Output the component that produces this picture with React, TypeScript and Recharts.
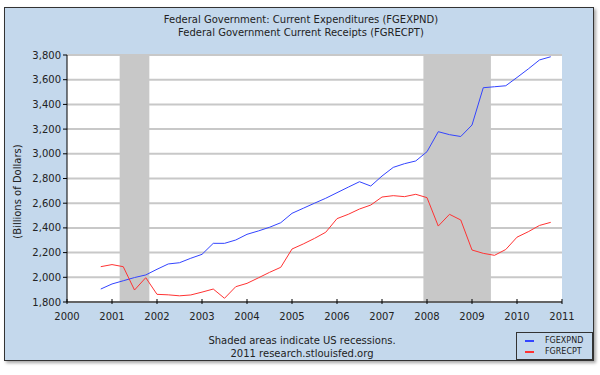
import React from "react";
import {
  CartesianGrid,
  Line,
  LineChart,
  ReferenceArea,
  XAxis,
  YAxis,
} from "recharts";

const quarters = [
  "2000Q4",
  "2001Q1", "2001Q2", "2001Q3", "2001Q4",
  "2002Q1", "2002Q2", "2002Q3", "2002Q4",
  "2003Q1", "2003Q2", "2003Q3", "2003Q4",
  "2004Q1", "2004Q2", "2004Q3", "2004Q4",
  "2005Q1", "2005Q2", "2005Q3", "2005Q4",
  "2006Q1", "2006Q2", "2006Q3", "2006Q4",
  "2007Q1", "2007Q2", "2007Q3", "2007Q4",
  "2008Q1", "2008Q2", "2008Q3", "2008Q4",
  "2009Q1", "2009Q2", "2009Q3", "2009Q4",
  "2010Q1", "2010Q2", "2010Q3", "2010Q4",
];

// FGEXPND, billions of dollars
const expenditures = [
  1905,
  1946, 1972, 1998, 2019,
  2065, 2108, 2118, 2154,
  2186, 2275, 2275, 2302,
  2348, 2375, 2405, 2442,
  2518, 2559, 2600, 2640,
  2685, 2730, 2774, 2739,
  2820, 2890, 2920, 2942,
  3017, 3179, 3155, 3140,
  3233, 3535, 3543, 3551,
  3618, 3687, 3760, 3786,
];

// FGRECPT, billions of dollars
const receipts = [
  2086,
  2103, 2086, 1897, 1997,
  1862, 1858, 1850, 1857,
  1880, 1905, 1830, 1924,
  1951, 1995, 2040, 2081,
  2229, 2270, 2315, 2365,
  2475, 2510, 2553, 2585,
  2650, 2661, 2653, 2672,
  2645, 2415, 2510, 2464,
  2221, 2194, 2178, 2225,
  2325, 2369, 2420, 2445,
];

const recessions = [
  [2001.17, 2001.83],
  [2007.92, 2009.42],
];

const yearTicks = [2000, 2001, 2002, 2003, 2004, 2005, 2006, 2007, 2008, 2009, 2010, 2011];
const valueTicks = [1800, 2000, 2200, 2400, 2600, 2800, 3000, 3200, 3400, 3600, 3800];

const BLUE = "#3344ff";
const RED = "#ff3333";
const FONT = "'DejaVu Sans', Verdana, sans-serif";

const toYear = (q: string) => Number(q.slice(0, 4)) + (Number(q.slice(5)) - 1) / 4;

const data = quarters.map((q, i) => ({
  t: toYear(q),
  FGEXPND: expenditures[i],
  FGRECPT: receipts[i],
}));

const YearTick = ({ x, y, payload }: any) => (
  <g>
    <line x1={x} x2={x} y1={y - 5} y2={y} stroke="#000" />
    <text x={x} y={y + 16} textAnchor="middle" fontSize={10} fill="#222" fontFamily={FONT}>
      {payload.value}
    </text>
  </g>
);

const series = [
  ["FGEXPND", BLUE],
  ["FGRECPT", RED],
];

const LegendBox = () => (
  <div
    style={{
      position: "absolute",
      left: 516,
      top: 332,
      boxSizing: "border-box",
      width: 77,
      height: 28,
      border: "1px solid #333",
      fontSize: 8,
      fontFamily: FONT,
      color: "#222",
      padding: "3px 0 0 8px",
      lineHeight: "10.5px",
    }}
  >
    {series.map(([name, color]) => (
      <div key={name} style={{ display: "flex", alignItems: "center" }}>
        <span style={{ display: "inline-block", width: 9, height: 2, background: color, marginRight: 11 }} />
        {name}
      </div>
    ))}
  </div>
);

const App: React.FC = () => {
  return (
    <div style={{ position: "absolute", left: 0, top: 0, width: 600, height: 375, background: "#fff", fontFamily: FONT }}>
      <div
        style={{
          position: "absolute",
          left: 4,
          top: 7,
          width: 590,
          height: 354,
          boxSizing: "border-box",
          border: "1px solid #333",
          background: "#c4d8ec",
          boxShadow: "2px 2px 3px rgba(0,0,0,0.35)",
        }}
      />
      <div style={{ position: "absolute", left: 0, top: 13, width: 602, textAlign: "center", fontSize: 10, lineHeight: "13px", color: "#222" }}>
        <div>Federal Government: Current Expenditures (FGEXPND)</div>
        <div>Federal Government Current Receipts (FGRECPT)</div>
      </div>
      <div style={{ position: "absolute", left: 0, top: 334, width: 604, textAlign: "center", fontSize: 10, lineHeight: "13px", color: "#222" }}>
        <div>Shaded areas indicate US recessions.</div>
        <div>2011 research.stlouisfed.org</div>
      </div>
      <div style={{ position: "absolute", left: 0, top: 0 }}>
        <LineChart width={600} height={375} data={data} margin={{ top: 55, right: 38, bottom: 53, left: 0 }}>
          <CartesianGrid vertical={false} stroke="#c8c8c8" strokeWidth={2} fill="#fff" />
          {recessions.map(([a, b]) => (
            <ReferenceArea key={a} x1={a} x2={b} fill="#c8c8c8" fillOpacity={1} stroke="none" ifOverflow="hidden" />
          ))}
          <XAxis
            dataKey="t"
            type="number"
            domain={[2000, 2011]}
            ticks={yearTicks}
            height={20}
            tickSize={0}
            tickLine={false}
            tick={<YearTick />}
            stroke="#000"
            interval={0}
          />
          <YAxis
            type="number"
            domain={[1800, 3800]}
            ticks={valueTicks}
            width={67}
            tickSize={4}
            tickMargin={2}
            stroke="#000"
            interval={0}
            tick={{ fontSize: 10, fill: "#222", fontFamily: FONT }}
            tickFormatter={(v: number) => v.toLocaleString("en-US")}
            label={{
              value: "(Billions of Dollars)",
              angle: -90,
              position: "center",
              dx: -16,
              dy: 13,
              style: { fontSize: 10, fill: "#222", fontFamily: FONT, textAnchor: "middle" },
            }}
          />
          <Line type="linear" dataKey="FGEXPND" stroke={BLUE} strokeWidth={1} dot={false} isAnimationActive={false} />
          <Line type="linear" dataKey="FGRECPT" stroke={RED} strokeWidth={1} dot={false} isAnimationActive={false} />
        </LineChart>
      </div>
      <LegendBox />
    </div>
  );
};

export default App;
